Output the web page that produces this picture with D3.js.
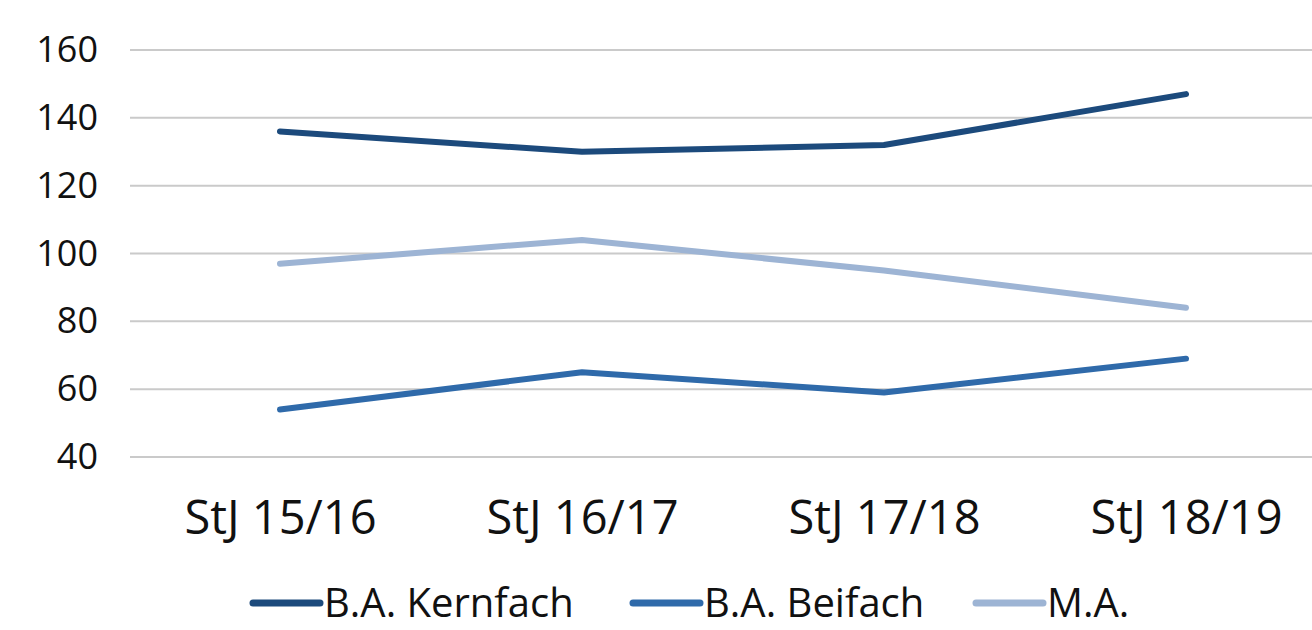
<!DOCTYPE html>
<html>
<head>
<meta charset="utf-8">
<script src="https://cdn.jsdelivr.net/npm/d3@7"></script>
<style>
  body { margin: 0; background: #fff; }
  svg { display: block; font-family: "Open Sans", "Noto Sans", sans-serif; }
</style>
</head>
<body>
<div id="chart"></div>
<script>
const categories = ['StJ 15/16', 'StJ 16/17', 'StJ 17/18', 'StJ 18/19'];
const kernfach = [136, 130, 132, 147];
const beifach = [54, 65, 59, 69];
const master = [97, 104, 95, 84];
const yTicks = [40, 60, 80, 100, 120, 140, 160];

const series = [
  { name: 'B.A. Kernfach', values: kernfach, color: '#1c4a7c' },
  { name: 'B.A. Beifach', values: beifach, color: '#2f6aaa' },
  { name: 'M.A.', values: master, color: '#9db4d4' }
];

const width = 1312, height = 630;

const svg = d3.select('#chart')
  .append('svg')
  .attr('width', width)
  .attr('height', height);

const x = d3.scalePoint()
  .domain(categories)
  .range([280, 1186]);

const y = d3.scaleLinear()
  .domain([40, 160])
  .range([457, 50]);

// grid
svg.append('g')
  .selectAll('line')
  .data(yTicks)
  .enter()
  .append('line')
  .attr('x1', 130)
  .attr('x2', width)
  .attr('y1', d => y(d))
  .attr('y2', d => y(d))
  .attr('stroke', '#cacaca')
  .attr('stroke-width', 2);

// y axis labels
svg.append('g')
  .attr('transform', 'translate(98,0)')
  .call(d3.axisLeft(y).tickValues(yTicks).tickSize(0).tickPadding(0))
  .call(g => g.select('.domain').remove())
  .call(g => g.selectAll('.tick text')
    .attr('fill', '#111')
    .style('font-size', '36px')
    .style('font-family', '"Open Sans", sans-serif'));

// x axis labels
svg.append('g')
  .attr('transform', 'translate(0,518)')
  .call(d3.axisBottom(x).tickSize(0).tickPadding(0))
  .call(g => g.select('.domain').remove())
  .call(g => g.selectAll('.tick text')
    .attr('dy', '0.35em')
    .attr('fill', '#111')
    .style('font-size', '47px')
    .style('font-family', '"Open Sans", sans-serif'));

const line = d3.line()
  .x((d, i) => x(categories[i]))
  .y(d => y(d));

svg.selectAll('.series')
  .data(series)
  .enter()
  .append('path')
  .attr('fill', 'none')
  .attr('stroke', d => d.color)
  .attr('stroke-width', 6)
  .attr('stroke-linecap', 'round')
  .attr('stroke-linejoin', 'round')
  .attr('d', d => line(d.values));

// legend
const legendX = [250, 630, 973];
const legend = svg.append('g');
series.forEach((s, i) => {
  const g = legend.append('g').attr('transform', `translate(${legendX[i]},603)`);
  g.append('line')
    .attr('x1', 3).attr('x2', 70)
    .attr('stroke', s.color)
    .attr('stroke-width', 7)
    .attr('stroke-linecap', 'round');
  g.append('text')
    .attr('x', 74)
    .attr('dy', '0.35em')
    .attr('fill', '#111')
    .style('font-size', '40px')
    .text(s.name);
});
</script>
</body>
</html>
